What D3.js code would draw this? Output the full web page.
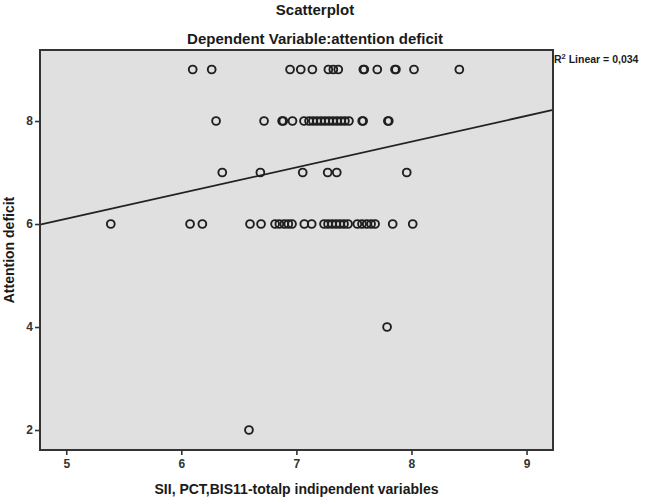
<!DOCTYPE html>
<html>
<head>
<meta charset="utf-8">
<script src="https://cdn.jsdelivr.net/npm/d3@7"></script>
<style>
  html, body { margin: 0; padding: 0; background: #ffffff; }
  svg { display: block; font-family: "Liberation Sans", Arial, sans-serif; }
</style>
</head>
<body>
<svg id="chart" width="645" height="500"></svg>
<script>
// ---- Data ----
const title = "Scatterplot";
const subtitle = "Dependent Variable:attention deficit";
const xAxisTitle = "SII, PCT,BIS11-totalp indipendent variables";
const yAxisTitle = "Attention deficit";
const r2Label = "0,034";

const xTicks = [5, 6, 7, 8, 9];
const yTicks = [2, 4, 6, 8];

// x values (independent variable) grouped by attention-deficit score
const xAt9 = [6.099, 6.264, 6.945, 7.038, 7.139, 7.278, 7.321, 7.364, 7.582, 7.590, 7.703, 7.857, 7.865, 8.022, 8.416];
const xAt8 = [6.302, 6.719, 6.876, 6.886, 6.966, 7.066, 7.110, 7.144, 7.179, 7.214, 7.249, 7.283, 7.318, 7.353, 7.388, 7.422, 7.457, 7.572, 7.580, 7.795, 7.803];
const xAt7 = [6.356, 6.687, 7.055, 7.272, 7.351, 7.959];
const xAt6 = [5.387, 6.076, 6.183, 6.597, 6.693, 6.815, 6.852, 6.895, 6.930, 6.962, 7.069, 7.133, 7.240, 7.275, 7.310, 7.345, 7.379, 7.414, 7.449, 7.530, 7.570, 7.611, 7.649, 7.684, 7.837, 8.011];
const xAt4 = [7.788];
const xAt2 = [6.588];

// Linear fit line (as drawn in the reference)
const fitIntercept = 3.60;
const fitSlope = 0.50;

const groups = [
  { y: 9, xs: xAt9 }, { y: 8, xs: xAt8 }, { y: 7, xs: xAt7 },
  { y: 6, xs: xAt6 }, { y: 4, xs: xAt4 }, { y: 2, xs: xAt2 }
];
const points = groups.flatMap(g => g.xs.map(x => ({ x, y: g.y })));

// ---- Layout ----
const svg = d3.select("#chart");
const plot = { left: 40, right: 553, top: 50, bottom: 450 };

const x = d3.scaleLinear().domain([4.772, 9.230]).range([plot.left, plot.right]);
const y = d3.scaleLinear().domain([1.612, 9.379]).range([plot.bottom, plot.top]);

// Plot background
svg.append("rect")
  .attr("x", plot.left).attr("y", plot.top)
  .attr("width", plot.right - plot.left).attr("height", plot.bottom - plot.top)
  .attr("fill", "#e0e0e0");

// Axes
const xAxis = svg.append("g")
  .attr("transform", `translate(0,${plot.bottom})`)
  .call(d3.axisBottom(x).tickValues(xTicks).tickFormat(d3.format("d")).tickSize(5).tickSizeOuter(0).tickPadding(4));
const yAxis = svg.append("g")
  .attr("transform", `translate(${plot.left},0)`)
  .call(d3.axisLeft(y).tickValues(yTicks).tickFormat(d3.format("d")).tickSize(5).tickSizeOuter(0).tickPadding(2));

[xAxis, yAxis].forEach(a => {
  a.select(".domain").remove();
  a.selectAll(".tick line").attr("stroke", "#333").attr("stroke-width", 1.6);
  a.selectAll(".tick text")
    .attr("fill", "#333")
    .style("font-size", "12px")
    .style("font-weight", "bold")
    .style("font-family", "'Liberation Sans', Arial, sans-serif");
});

// Fit line
const xd = x.domain();
svg.append("line")
  .attr("x1", x(xd[0])).attr("y1", y(fitIntercept + fitSlope * xd[0]))
  .attr("x2", x(xd[1])).attr("y2", y(fitIntercept + fitSlope * xd[1]))
  .attr("stroke", "#222").attr("stroke-width", 1.8);

// Points
svg.append("g").selectAll("circle")
  .data(points).join("circle")
  .attr("cx", d => x(d.x)).attr("cy", d => y(d.y))
  .attr("r", 3.9)
  .attr("fill", "none")
  .attr("stroke", "#1f1f1f")
  .attr("stroke-width", 1.9);

// Plot border
svg.append("rect")
  .attr("x", plot.left).attr("y", plot.top)
  .attr("width", plot.right - plot.left).attr("height", plot.bottom - plot.top)
  .attr("fill", "none").attr("stroke", "#333").attr("stroke-width", 2);

// Titles
svg.append("text")
  .attr("x", 315).attr("y", 15)
  .attr("text-anchor", "middle")
  .style("font-size", "15px").style("font-weight", "bold").attr("fill", "#1a1a1a")
  .text(title);
svg.append("text")
  .attr("x", 315).attr("y", 44)
  .attr("text-anchor", "middle")
  .style("font-size", "15px").style("font-weight", "bold").attr("fill", "#1a1a1a")
  .text(subtitle);

// R² label
const r2 = svg.append("text")
  .attr("x", 554).attr("y", 63)
  .style("font-size", "10.5px").style("font-weight", "bold").attr("fill", "#1a1a1a");
r2.append("tspan").text("R");
r2.append("tspan").attr("dy", -4).style("font-size", "7.5px").text("2");
r2.append("tspan").attr("dy", 4).text(" Linear = " + r2Label);

// Axis titles
svg.append("text")
  .attr("x", (plot.left + plot.right) / 2).attr("y", 494)
  .attr("text-anchor", "middle")
  .style("font-size", "14px").style("font-weight", "bold").attr("fill", "#1a1a1a")
  .text(xAxisTitle);
svg.append("text")
  .attr("transform", `translate(14,${(plot.top + plot.bottom) / 2}) rotate(-90)`)
  .attr("text-anchor", "middle")
  .style("font-size", "14px").style("font-weight", "bold").attr("fill", "#1a1a1a")
  .text(yAxisTitle);
</script>
</body>
</html>
